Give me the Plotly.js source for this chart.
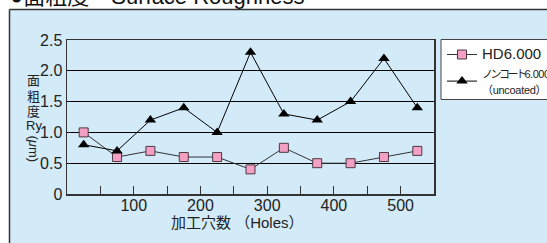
<!DOCTYPE html>
<html>
<head>
<meta charset="utf-8">
<script src="https://cdn.plot.ly/plotly-3.0.1.min.js"></script>
<style>html,body{margin:0;padding:0;background:#fff;overflow:hidden;}#chart{width:547px;height:243px;}</style>
</head>
<body>
<div id="chart"></div>
<script>
const holes = [25, 75, 125, 175, 225, 275, 325, 375, 425, 475, 525];
const hd6000 = [1.0, 0.6, 0.7, 0.6, 0.6, 0.4, 0.75, 0.5, 0.5, 0.6, 0.7];
const uncoated = [0.8, 0.7, 1.2, 1.4, 1.0, 2.3, 1.3, 1.2, 1.5, 2.2, 1.4];
const xTickVals = [50, 100, 150, 200, 250, 300, 350, 400, 450, 500];
const xTickText = ['', '100', '', '200', '', '300', '', '400', '', '500'];
const yTickVals = [0, 0.5, 1.0, 1.5, 2.0, 2.5];
const yTickText = ['0', '0.5', '1.0', '1.5', '2.0', '2.5'];
const seriesNames = [
  '<span style="font-size:15px">HD6.000</span>',
  '<span style="font-size:11px;letter-spacing:-2.5px">ノンコート</span><span style="font-size:11px;letter-spacing:-0.5px">6.000</span><br><span style="font-size:11px;letter-spacing:-0.3px">（uncoated）</span>'
];
const titleText = '●面粗度　Surface Roughness';
const xTitleText = '加工穴数 （Holes）';
const yTitleParts = ['面', '粗', '度', 'Ry'];
const yTitleUnit = '(<i>μ</i>m)';

const FONT = 'Liberation Sans, Arial, "Noto Sans CJK JP", sans-serif';
const ML = 67, MR = 113, MT = 40, MB = 49, W = 547, H = 243;
const PW = W - ML - MR, PH = H - MT - MB;
const px = x => (x - ML) / PW;
const py = y => 1 - (y - MT) / PH;

const traces = [
  {x: holes, y: hd6000, name: seriesNames[0], type: 'scatter', mode: 'lines+markers',
   line: {color: '#333', width: 1},
   marker: {symbol: 'square', size: 9, color: '#f4a0c4', line: {color: '#4a3a40', width: 1}}},
  {x: holes, y: uncoated, name: seriesNames[1], type: 'scatter', mode: 'lines+markers',
   line: {color: '#000', width: 1},
   marker: {symbol: 'triangle-up', size: 10, color: '#000'}}
];

const yTitleY = [80, 96, 111, 125];
const annotations = [
  {text: titleText, xref: 'paper', yref: 'paper', x: px(8), y: py(-4), xanchor: 'left', yanchor: 'middle',
   showarrow: false, font: {family: FONT, size: 22, color: '#111'}},
  {text: xTitleText, xref: 'paper', yref: 'paper', x: px(237.5), y: py(222), xanchor: 'center', yanchor: 'middle',
   showarrow: false, font: {family: FONT, size: 15, color: '#222'}},
  {text: yTitleUnit, xref: 'paper', yref: 'paper', x: px(33.5), y: py(149), xanchor: 'center', yanchor: 'middle',
   textangle: 90, showarrow: false, font: {family: FONT, size: 13, color: '#222'}}
];
yTitleParts.forEach((t, i) => annotations.push({
  text: t, xref: 'paper', yref: 'paper', x: px(33.5), y: py(yTitleY[i]), xanchor: 'center', yanchor: 'middle',
  showarrow: false, font: {family: FONT, size: 13, color: '#222'}
}));

const edge = (x0, y0, x1, y1, w, c) => ({type: 'line', xref: 'paper', yref: 'paper',
  x0: px(x0), y0: py(y0), x1: px(x1), y1: py(y1), line: {color: c, width: w}, layer: 'below'});

const layout = {
  width: W, height: H,
  margin: {l: ML, r: MR, t: MT, b: MB, pad: 0, autoexpand: false},
  paper_bgcolor: '#ffffff', plot_bgcolor: '#ffffff',
  font: {family: FONT, color: '#222'},
  showlegend: true,
  legend: {x: px(442), y: py(40), xanchor: 'left', yanchor: 'top', bgcolor: 'rgba(0,0,0,0)',
           borderwidth: 0, font: {family: FONT, size: 12, color: '#222'},
           tracegroupgap: 0},
  xaxis: {range: [0, 550], tickmode: 'array', tickvals: xTickVals, ticktext: xTickText,
          ticks: 'inside', ticklen: 8, tickcolor: '#333', tickwidth: 1, ticklabelstandoff: -4,
          showline: true, mirror: true, linecolor: '#333', linewidth: 1.5,
          showgrid: false, zeroline: false, fixedrange: true,
          tickfont: {family: FONT, size: 16, color: '#222'}},
  yaxis: {range: [0, 2.5], tickmode: 'array', tickvals: yTickVals, ticktext: yTickText,
          ticks: '', showline: true, mirror: true, linecolor: '#333', linewidth: 1.5,
          showgrid: true, gridcolor: '#000', gridwidth: 1, zeroline: false, fixedrange: true,
          tickfont: {family: FONT, size: 16, color: '#222'}},
  shapes: [
    {type: 'rect', xref: 'paper', yref: 'paper', x0: px(9.5), x1: px(700), y0: py(400), y1: py(9.5),
     fillcolor: '#d3ebf8', line: {width: 0}, layer: 'below'},
    edge(9.5, 9.5, 700, 9.5, 1.5, '#333'),
    edge(9.5, 9.5, 9.5, 400, 1.5, '#333'),
    {type: 'rect', xref: 'paper', yref: 'paper', x0: px(441), x1: px(700), y0: py(99.5), y1: py(39.5),
     fillcolor: '#ffffff', line: {width: 0}, layer: 'below'},
    edge(441, 39.5, 700, 39.5, 1, '#444'),
    edge(441, 99.5, 700, 99.5, 1, '#444'),
    edge(441, 39.5, 441, 99.5, 1, '#444')
  ],
  annotations: annotations
};

Plotly.newPlot('chart', traces, layout, {displayModeBar: false, staticPlot: true});
</script>
</body>
</html>
